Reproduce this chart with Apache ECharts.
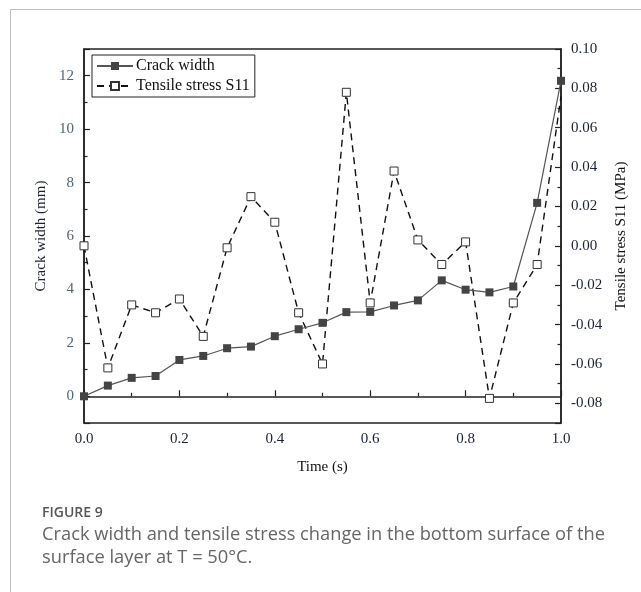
<!DOCTYPE html>
<html>
<head>
<meta charset="utf-8">
<script src="https://cdn.jsdelivr.net/npm/echarts@6/dist/echarts.min.js"></script>
<style>
  html, body { margin: 0; padding: 0; background: #fff; }
  #chart { width: 641px; height: 592px; }
</style>
</head>
<body>
<div id="chart"></div>
<script>
// Sampling times (s)
const times = [0.00, 0.05, 0.10, 0.15, 0.20, 0.25, 0.30, 0.35, 0.40, 0.45, 0.50,
               0.55, 0.60, 0.65, 0.70, 0.75, 0.80, 0.85, 0.90, 0.95, 1.00];
// Crack width (mm)
const crackWidth = [0.00, 0.40, 0.69, 0.76, 1.36, 1.51, 1.80, 1.86, 2.25, 2.51, 2.75,
                    3.15, 3.16, 3.40, 3.59, 4.34, 3.99, 3.89, 4.11, 7.24, 11.81];
// Tensile stress S11 (MPa)
const tensileStress = [0.000, -0.062, -0.030, -0.034, -0.027, -0.046, -0.001, 0.025, 0.012, -0.034, -0.060,
                       0.078, -0.029, 0.038, 0.003, -0.0095, 0.002, -0.0775, -0.029, -0.0095, 0.076];

const seriesNames = ['Crack width', 'Tensile stress S11'];
const axisNames = { x: 'Time (s)', left: 'Crack width (mm)', right: 'Tensile stress S11 (MPa)' };
const captionTitle = 'FIGURE 9';
const captionLines = [
  'Crack width and tensile stress change in the bottom surface of the',
  'surface layer at T = 50°C.'
];

const serif = '"Liberation Serif", "Times New Roman", serif';
const sans = '"Open Sans", "Noto Sans", sans-serif';
const axisColor = '#222';

const chart = echarts.init(document.getElementById('chart'), null, { renderer: 'canvas' });

const tickCommon = { show: true, inside: true, length: 6, lineStyle: { color: axisColor, width: 1.2 } };
const minorCommon = { show: true, splitNumber: 2, length: 3.5, lineStyle: { color: axisColor, width: 1.2 } };

// The stress marker at the right edge sits on the axis frame and is left undrawn there
const stressData = times.map((t, i) => {
  const item = { value: [t, tensileStress[i]] };
  if (i === times.length - 1) item.symbol = 'none';
  return item;
});

chart.setOption({
  animation: false,
  backgroundColor: '#fff',
  grid: {
    left: 84, right: 80, top: 49, bottom: 169,
    show: true, borderColor: axisColor, borderWidth: 1.5, backgroundColor: 'transparent'
  },
  legend: {
    left: 92, top: 55, orient: 'vertical',
    data: seriesNames,
    backgroundColor: '#fff',
    borderColor: axisColor, borderWidth: 1, borderRadius: 0,
    padding: [3, 5, 3, 4],
    itemGap: 4, itemWidth: 36, itemHeight: 10,
    textStyle: { fontFamily: serif, fontSize: 16, color: '#111', padding: [0, 0, 0, -2] }
  },
  xAxis: {
    type: 'value', min: 0, max: 1, interval: 0.2,
    name: axisNames.x, nameLocation: 'middle', nameGap: 37,
    nameTextStyle: { fontFamily: serif, fontSize: 15, color: '#111' },
    axisLine: { show: true, lineStyle: { color: axisColor, width: 1.5 } },
    axisTick: tickCommon,
    minorTick: minorCommon,
    splitLine: { show: false },
    axisLabel: { fontFamily: serif, fontSize: 15, color: '#1b2233', margin: 9,
                 formatter: v => v.toFixed(1) }
  },
  yAxis: [
    {
      type: 'value', position: 'left', min: -1, max: 13, splitNumber: 7,
      name: axisNames.left, nameLocation: 'middle', nameGap: 34,
      nameTextStyle: { fontFamily: serif, fontSize: 15, color: '#1b2233' },
      axisLine: { show: true, lineStyle: { color: axisColor, width: 1.5 } },
      axisTick: tickCommon,
      minorTick: minorCommon,
      splitLine: { show: false },
      axisLabel: { fontFamily: serif, fontSize: 15, color: '#4f6478', margin: 10,
                   showMinLabel: false, showMaxLabel: false,
                   formatter: v => (Math.abs(v % 2) < 1e-9 ? String(Math.round(v)) : '') }
    },
    {
      type: 'value', position: 'right', min: -0.09, max: 0.10, splitNumber: 10,
      name: axisNames.right, nameLocation: 'middle', nameGap: 52,
      nameTextStyle: { fontFamily: serif, fontSize: 15, color: '#111' },
      axisLine: { show: true, lineStyle: { color: axisColor, width: 1.5 } },
      axisTick: tickCommon,
      minorTick: minorCommon,
      splitLine: { show: false },
      axisLabel: { fontFamily: serif, fontSize: 15, color: '#1b2233', margin: 10,
                   showMinLabel: false,
                   formatter: v => {
                     const n = Math.round(v * 100);
                     return n % 2 === 0 ? v.toFixed(2) : '';
                   } }
    }
  ],
  series: [
    {
      name: seriesNames[0], type: 'line', yAxisIndex: 0,
      data: times.map((t, i) => [t, crackWidth[i]]),
      symbol: 'rect', symbolSize: 8, clip: false,
      lineStyle: { color: '#555', width: 1.2 },
      itemStyle: { color: '#444', borderColor: '#444', borderWidth: 0 },
      z: 3
    },
    {
      name: seriesNames[1], type: 'line', yAxisIndex: 1,
      data: stressData,
      symbol: 'rect', symbolSize: 8, clip: false,
      lineStyle: { color: '#111', width: 1.4, type: [7, 5] },
      itemStyle: { color: '#fff', borderColor: '#333', borderWidth: 1 },
      z: 2
    }
  ],
  graphic: [
    { type: 'line', shape: { x1: 10.5, y1: 9.5, x2: 641, y2: 9.5 }, style: { stroke: '#bdbdbd', lineWidth: 1 } },
    { type: 'line', shape: { x1: 10.5, y1: 9.5, x2: 10.5, y2: 592 }, style: { stroke: '#bdbdbd', lineWidth: 1 } },
    { type: 'text', left: 42, top: 506,
      style: { text: captionTitle, font: '600 14px ' + sans, fill: '#555' } },
    { type: 'text', left: 42, top: 526,
      style: { text: captionLines[0], font: '18.3px ' + sans, fill: '#666' } },
    { type: 'text', left: 42, top: 549,
      style: { text: captionLines[1], font: '18.3px ' + sans, fill: '#666' } }
  ]
});
</script>
</body>
</html>
